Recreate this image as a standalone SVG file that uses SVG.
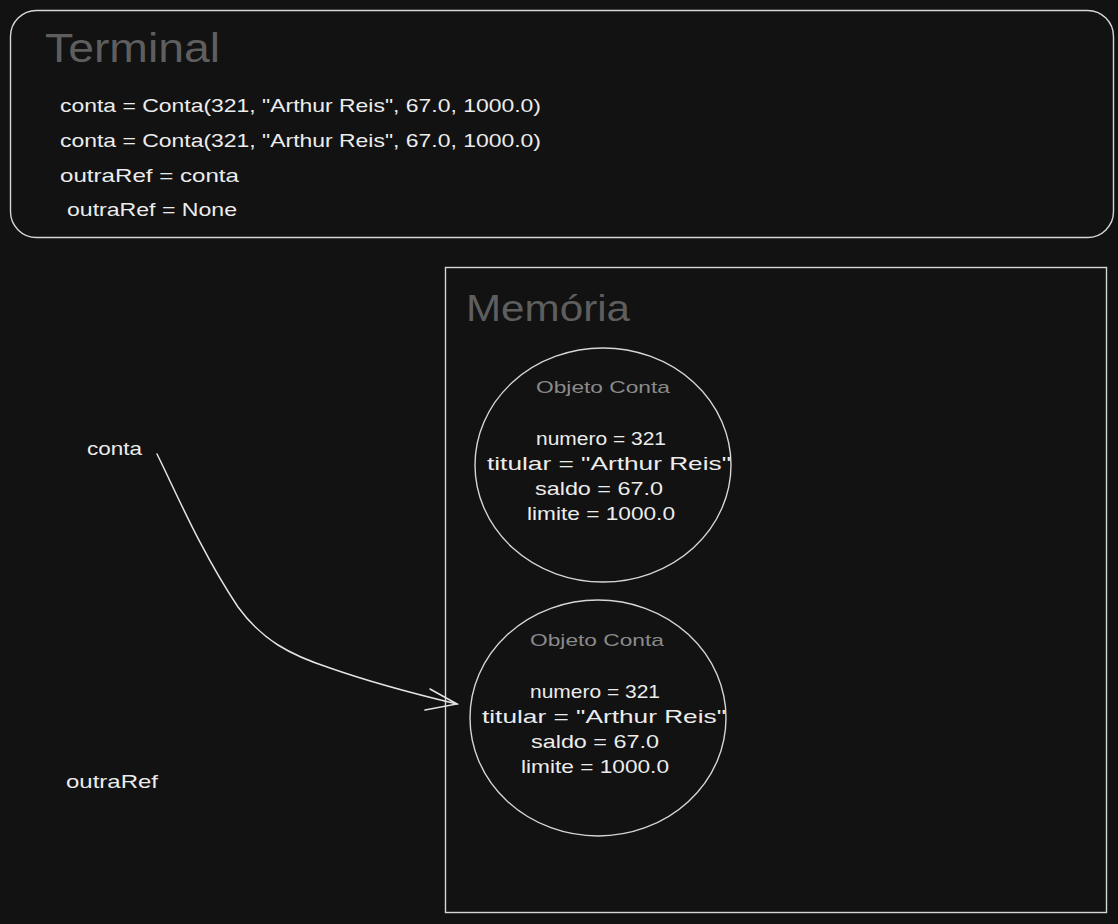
<svg xmlns="http://www.w3.org/2000/svg" width="1118" height="924" viewBox="0 0 1118 924">
  <defs>
    <style>
      .bg { fill: #121212; }
      .frame { fill: none; stroke: #d6d6d6; stroke-width: 1.4; }
      .title { font-family: "Liberation Sans", "Open Sans", sans-serif; fill: #5e5e5e; }
      .code { font-family: "Liberation Sans", "Open Sans", sans-serif; font-size: 19px; fill: #ececec; }
      .center { text-anchor: middle; }
      .obj { font-family: "Liberation Sans", "Open Sans", sans-serif; font-size: 17px; fill: #8a8a8a; text-anchor: middle; }
      .wire { fill: none; stroke: #e4e4e4; stroke-width: 1.5; stroke-linecap: round; }
    </style>
  </defs>

  <rect class="bg" x="0" y="0" width="1118" height="924"/>

  <!-- Terminal panel -->
  <g id="terminal">
    <rect class="frame" x="10.5" y="10.5" width="1103" height="227" rx="26" ry="26"/>
    <text class="title" x="45" y="62" font-size="40" textLength="175" lengthAdjust="spacingAndGlyphs">Terminal</text>
    <text class="code" x="60" y="112" textLength="481" lengthAdjust="spacingAndGlyphs">conta = Conta(321, "Arthur Reis", 67.0, 1000.0)</text>
    <text class="code" x="60" y="147" textLength="481" lengthAdjust="spacingAndGlyphs">conta = Conta(321, "Arthur Reis", 67.0, 1000.0)</text>
    <text class="code" x="60" y="182" textLength="179" lengthAdjust="spacingAndGlyphs">outraRef = conta</text>
    <text class="code" x="67" y="216" textLength="170" lengthAdjust="spacingAndGlyphs">outraRef = None</text>
  </g>

  <!-- Memory area -->
  <g id="memoria">
    <rect class="frame" x="445.5" y="267.5" width="661" height="645"/>
    <text class="title" x="466" y="321" font-size="36" textLength="164" lengthAdjust="spacingAndGlyphs">Memória</text>
  </g>

  <!-- First account object -->
  <g id="objeto1">
    <ellipse class="frame" cx="603" cy="465" rx="128" ry="117"/>
    <text class="obj" x="603" y="393" textLength="134" lengthAdjust="spacingAndGlyphs">Objeto Conta</text>
    <text class="code center" x="601" y="445" textLength="130" lengthAdjust="spacingAndGlyphs">numero = 321</text>
    <text class="code center" x="609" y="470" textLength="244" lengthAdjust="spacingAndGlyphs">titular = "Arthur Reis"</text>
    <text class="code center" x="599" y="495" textLength="128" lengthAdjust="spacingAndGlyphs">saldo = 67.0</text>
    <text class="code center" x="601" y="520" textLength="148" lengthAdjust="spacingAndGlyphs">limite = 1000.0</text>
  </g>

  <!-- Second account object -->
  <g id="objeto2">
    <ellipse class="frame" cx="598" cy="718" rx="128" ry="118"/>
    <text class="obj" x="597" y="646" textLength="134" lengthAdjust="spacingAndGlyphs">Objeto Conta</text>
    <text class="code center" x="595" y="698" textLength="130" lengthAdjust="spacingAndGlyphs">numero = 321</text>
    <text class="code center" x="604" y="723" textLength="244" lengthAdjust="spacingAndGlyphs">titular = "Arthur Reis"</text>
    <text class="code center" x="595" y="748" textLength="128" lengthAdjust="spacingAndGlyphs">saldo = 67.0</text>
    <text class="code center" x="595" y="773" textLength="148" lengthAdjust="spacingAndGlyphs">limite = 1000.0</text>
  </g>

  <!-- Variable names -->
  <g id="var-conta">
    <text class="code" x="87" y="455" textLength="55" lengthAdjust="spacingAndGlyphs">conta</text>
  </g>
  <g id="var-outraRef">
    <text class="code" x="66" y="788" textLength="92" lengthAdjust="spacingAndGlyphs">outraRef</text>
  </g>

  <!-- Reference arrow -->
  <g id="connectors">
    <path class="wire" d="M157,454 C175,490 200,550 238,607 C262,640 290,655 330,668 C370,682 415,694 457,704"/>
    <path class="wire" d="M430,689 L457,704 L425,710"/>
  </g>
</svg>
